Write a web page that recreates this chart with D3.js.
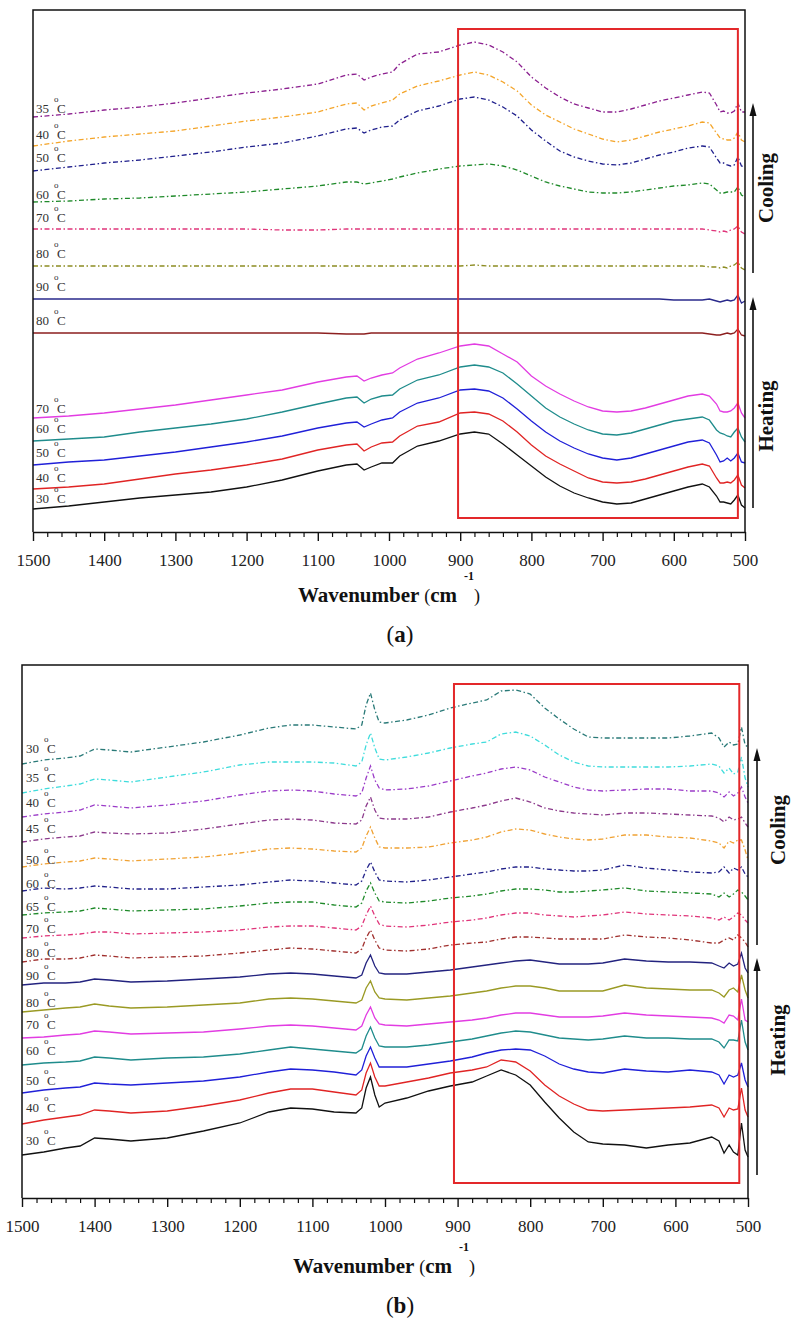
<!DOCTYPE html>
<meta charset="utf-8">
<title>FTIR spectra on heating and cooling</title>

<style>
body { margin: 0; background: #fff; }
text { font-family: "Liberation Serif", "Times New Roman", serif; }
</style>

<script src="https://d3js.org/d3.v7.min.js"></script>

<div id="chart"></div>

<script>

// ---------- panel (a) data ----------
// wavenumbers (cm-1) where the spectra were read
var wavenumA = [1500,1450,1400,1350,1300,1250,1200,1150,1100,1060,
                1045,1035,1025,1010,995,985,960,930,900,880,
                860,840,820,800,780,760,740,720,700,680,
                660,640,620,600,580,560,550,540,535,530,
                525,520,515,510,505,500];

// offset absorbance (arbitrary units, stacked)
var cool35A = [415,418,422,425,429,434,439,443,448,457, 458,452,455,458,460,468,478,480,487,490, 487,480,470,455,444,435,428,424,420,420, 423,427,431,434,437,440,439,427,420,421, 419,419,421,429,420,420];
var cool40A = [386,391,395,398,401,406,411,415,420,428, 429,422,426,429,432,438,446,451,457,460, 457,450,441,427,417,410,403,398,393,390, 392,396,400,403,406,410,409,399,394,393, 392,392,394,400,392,390];
var cool50A = [361,365,369,372,376,380,385,389,396,403, 404,399,402,405,406,412,421,426,433,435, 432,425,416,402,391,381,375,371,368,367, 369,373,377,380,384,386,385,374,369,369, 367,366,367,375,366,365];
var cool60A = [330,331,333,334,336,338,340,343,346,350, 350,348,349,351,353,355,359,363,366,367, 368,366,362,356,350,346,343,340,339,339, 340,342,344,346,347,349,348,342,339,339, 340,340,340,345,337,335];
var cool70A = [303,303,303,303,303,303,303,302,302,303, 303,303,303,303,303,303,303,303,303,303, 303,303,303,303,303,303,303,303,303,303, 303,303,303,303,303,303,302,301,300,301, 300,302,303,306,300,298];
var cool80A = [266,266,266,266,266,266,266,266,266,266, 266,266,266,266,266,266,266,266,266,267, 266,266,266,266,266,266,266,266,266,266, 266,266,266,266,266,266,265,265,264,265, 264,266,267,270,264,262];
var heat90A = [233,233,233,233,233,233,233,233,233,233, 233,233,233,233,233,233,233,233,233,233, 233,233,233,233,233,233,233,233,233,233, 233,233,233,232,232,232,233,231,230,231, 232,231,232,237,229,231];
var heat80A = [199,199,199,199,199,199,199,199,199,198, 198,198,199,199,199,199,199,199,199,199, 199,199,199,199,199,199,199,199,199,199, 199,199,199,199,199,199,198,197,197,198, 199,198,199,203,197,196];
var heat70A = [114,116,119,123,127,132,137,142,150,155, 156,151,154,157,159,164,173,179,186,188, 186,178,170,156,146,138,131,125,121,120, 121,124,128,132,136,138,136,128,121,120, 120,121,124,129,119,114];
var heat60A = [91,93,95,100,104,108,113,120,128,134, 135,129,133,136,137,143,152,157,165,167, 165,159,148,136,124,115,108,102,98,97, 99,103,107,111,113,115,112,102,99,98, 96,95,100,104,95,90];
var heat50A = [67,70,72,76,80,85,90,96,104,109, 110,105,108,112,114,120,129,134,142,143, 141,134,123,111,100,91,84,78,74,72, 74,78,82,86,90,92,89,77,70,71, 74,71,74,79,70,69];
var heat40A = [43,45,48,53,58,62,67,73,82,87, 88,81,85,89,90,96,106,110,119,120, 118,111,100,87,76,68,61,54,50,49, 50,53,57,61,65,68,66,54,49,49, 50,49,52,57,47,44];
var heat30A = [23,26,30,34,37,40,45,52,61,67, 68,62,65,69,69,76,86,91,98,100, 98,88,77,66,55,46,39,34,30,28, 29,33,37,41,45,48,45,36,30,30, 29,28,32,37,27,24];

var tempsA = ["35","40","50","60","70","80","90","80","70","60","50","40","30"];

// ---------- panel (b) data ----------
var wavenumB = [1500,1470,1440,1420,1400,1380,1350,1300,1250,1200,
                1160,1130,1100,1070,1040,1032,1026,1020,1014,1008,
                1000,970,940,910,880,860,840,820,800,780,
                760,740,720,700,670,640,610,580,550,540,
                533,526,520,514,509,504,500];

var cool30B = [434,438,440,442,449,448,446,451,456,463, 470,473,473,471,469,473,493,505,488,476, 475,478,483,490,495,498,507,508,504,490, 479,469,461,460,460,460,460,462,465,460, 451,456,453,454,471,453,451];
var cool35B = [405,409,412,414,419,418,416,421,426,433, 436,436,436,435,432,436,453,465,450,439, 438,441,445,450,454,456,464,466,462,453, 443,436,432,431,431,431,431,432,434,432, 425,430,424,426,441,420,411];
var cool40B = [381,384,386,388,393,392,390,393,397,403, 407,408,407,404,402,405,420,432,418,410, 408,409,412,417,422,425,429,431,428,421, 416,411,408,407,408,409,409,407,407,405, 401,406,402,405,411,401,395];
var cool45B = [356,359,361,362,366,365,364,365,369,374, 378,379,378,375,374,378,392,401,388,380, 379,379,381,386,390,393,397,400,396,390, 387,385,384,383,385,385,384,383,382,380, 376,381,378,379,381,375,371];
var cool50B = [331,334,336,337,340,339,337,339,341,345, 349,350,349,347,346,350,362,371,360,351, 350,350,351,355,358,361,366,369,368,364, 361,359,358,359,363,363,361,360,357,355, 350,357,355,358,358,348,338];
var cool60B = [307,310,309,310,312,311,309,309,311,313, 316,318,317,315,313,317,328,336,326,318, 317,316,318,321,324,326,329,331,331,329, 328,327,327,328,333,330,328,326,325,326, 331,325,330,328,331,324,321];
var cool65B = [283,285,286,287,290,289,287,288,289,292, 295,296,296,293,291,295,307,315,305,297, 296,295,297,300,302,304,307,309,309,308, 306,306,307,308,310,307,306,305,304,301, 305,301,304,308,306,302,298];
var cool70B = [260,262,263,264,266,266,264,265,266,268, 271,272,272,270,268,272,283,292,282,274, 272,271,273,276,278,280,283,285,285,283, 282,281,282,283,286,284,283,282,280,278, 281,278,281,285,283,278,275];
var cool80B = [236,239,239,240,243,242,240,241,242,245, 248,250,249,247,245,249,260,268,258,250, 248,247,249,253,255,256,259,261,261,260, 259,259,259,259,263,261,260,258,255,255, 258,260,258,263,260,256,251];
var heat90B = [213,215,215,216,219,218,216,217,219,221, 224,225,224,222,220,223,235,243,232,225, 224,224,226,228,231,233,235,237,238,236, 234,234,234,235,239,237,236,236,235,232, 230,235,232,234,245,230,225];
var heat80B = [186,188,190,191,194,192,190,191,193,195, 199,200,199,197,195,198,210,217,206,200, 199,198,200,202,205,207,210,212,212,210, 207,207,207,207,213,210,209,208,208,205, 201,208,210,206,223,208,200];
var heat70B = [160,161,163,164,167,166,164,165,166,169, 172,173,172,170,168,172,183,191,180,174, 173,172,174,176,178,180,183,185,185,183, 181,181,181,182,185,183,182,181,180,178, 175,183,182,178,199,178,176];
var heat60B = [133,135,136,137,141,140,138,140,141,144, 148,151,149,147,145,149,162,171,160,152, 151,151,153,156,159,162,165,167,166,163, 160,159,158,159,162,160,160,159,159,156, 150,158,158,157,178,156,148];
var heat50B = [105,108,110,111,115,114,113,115,117,121, 126,129,128,126,123,128,142,151,140,131, 131,131,134,137,141,145,148,149,148,142, 134,129,126,125,129,127,126,128,126,123, 114,123,121,123,135,118,111];
var heat40B = [74,78,81,83,88,87,85,87,92,98, 105,109,109,106,103,108,125,135,121,112, 112,116,120,125,128,131,138,136,127,113, 102,94,88,87,88,89,90,91,93,90, 81,90,88,89,110,88,81];
var heat30B = [43,46,50,52,60,59,57,60,67,75, 86,90,89,86,85,90,110,121,103,91, 95,100,107,112,116,122,128,123,113,96, 80,66,56,54,53,50,53,55,61,57, 45,53,46,43,75,48,41];

var tempsB = ["30","35","40","45","50","60","65","70","80","90","80","70","60","50","40","30"];

var majorTicks = d3.range(1500, 499, -100);
var minorTicks = d3.range(1480, 500, -20).filter(function(v) { return v % 100 != 0; });

var dashDot = "5,2.5,1.5,2.5";

var svg = d3.select("#chart")
  .append("svg")
    .attr("width", 799)
    .attr("height", 1327)
    .style("background", "#fff");

function drawPanel(p) {
  var x = d3.scaleLinear().domain([1500, 500]).range([p.left, p.right]);
  var y = d3.scaleLinear().domain([0, p.span]).range([p.bottom, p.top]);
  var g = svg.append("g");

  // spectra
  var line = d3.line()
    .x(function(d, i) { return x(p.wn[i]); })
    .y(function(d) { return y(d); });
  g.selectAll("path.spec")
    .data(p.series)
    .join("path")
      .attr("class", "spec")
      .attr("d", function(d) { return line(d.values); })
      .attr("fill", "none")
      .attr("stroke", function(d) { return d.color; })
      .attr("stroke-width", 1.3)
      .attr("stroke-dasharray", function(d) { return d.dash ? dashDot : null; });

  // temperature labels at the left end of each trace
  var lab = g.selectAll("g.lab")
    .data(p.series)
    .join("g")
      .attr("class", "lab")
      .attr("transform", function(d, i) {
        return "translate(" + p.labelX + "," + (y(d.values[0]) - p.labelDy[i]) + ")";
      })
      .attr("fill", "#333")
      .style("font-size", "13px");
  lab.append("text").text(function(d) { return d.temp; });
  lab.append("text").attr("x", 21).text("C");
  lab.append("text").attr("x", 18).attr("y", -11).style("font-size", "9px").text("o");

  // red region box
  g.append("rect")
    .attr("x", x(p.box[0]))
    .attr("y", y(p.box[2]))
    .attr("width", x(p.box[1]) - x(p.box[0]))
    .attr("height", y(p.box[3]) - y(p.box[2]))
    .attr("fill", "none")
    .attr("stroke", "#e3282a")
    .attr("stroke-width", 2);

  // frame
  g.append("path")
    .attr("d", "M" + p.left + "," + p.bottom + "V" + p.top + "H" + p.right + "V" + p.bottom)
    .attr("fill", "none")
    .attr("stroke", "#111")
    .attr("stroke-width", 1.5);

  // x axis, major + minor ticks
  var ax = g.append("g")
    .attr("transform", "translate(0," + p.bottom + ")")
    .call(d3.axisBottom(x).tickValues(majorTicks).tickSize(9).tickSizeOuter(0).tickPadding(13).tickFormat(d3.format("d")));
  ax.select(".domain").attr("stroke", "#111").attr("stroke-width", 1.5);
  ax.selectAll(".tick line").attr("stroke", "#111").attr("stroke-width", 1.4);
  ax.selectAll(".tick text")
    .attr("fill", "#222")
    .style("font-family", "Liberation Serif, serif")
    .style("font-size", "17px");
  var mx = g.append("g")
    .attr("transform", "translate(0," + p.bottom + ")")
    .call(d3.axisBottom(x).tickValues(minorTicks).tickSize(5).tickSizeOuter(0).tickFormat(""));
  mx.select(".domain").remove();
  mx.selectAll(".tick line").attr("stroke", "#111").attr("stroke-width", 1.2);

  // axis title
  var t = g.append("text")
    .attr("x", p.titleX)
    .attr("y", p.bottom + p.titleDy)
    .attr("fill", "#111")
    .style("font-size", "21px");
  t.append("tspan").style("font-weight", "bold").text("Wavenumber ");
  t.append("tspan").style("font-size", "18px").text("(");
  t.append("tspan").style("font-weight", "bold").text("cm");
  g.append("text")
    .attr("x", p.titleX + 166)
    .attr("y", p.bottom + p.titleDy - 22)
    .style("font-size", "12px")
    .style("font-weight", "bold")
    .attr("fill", "#111")
    .text("-1");
  g.append("text")
    .attr("x", p.titleX + 176)
    .attr("y", p.bottom + p.titleDy)
    .style("font-size", "18px")
    .attr("fill", "#111")
    .text(")");

  // panel letter
  var pl = g.append("text")
    .attr("x", 400)
    .attr("y", p.bottom + p.letterDy)
    .attr("text-anchor", "middle")
    .attr("fill", "#111")
    .style("font-size", "23px");
  pl.append("tspan").text("(");
  pl.append("tspan").style("font-weight", "bold").text(p.letter);
  pl.append("tspan").text(")");

  // cooling / heating arrows
  p.arrows.forEach(function(a) {
    var ax0 = p.right + p.arrowDx;
    g.append("line")
      .attr("x1", ax0).attr("x2", ax0)
      .attr("y1", y(a.from)).attr("y2", y(a.to) + 8)
      .attr("stroke", "#111")
      .attr("stroke-width", 1.6);
    g.append("path")
      .attr("d", "M" + ax0 + "," + y(a.to) + "L" + (ax0 - 3.5) + "," + (y(a.to) + 13) + "L" + (ax0 + 3.5) + "," + (y(a.to) + 13) + "Z")
      .attr("fill", "#111");
    g.append("text")
      .attr("transform", "translate(" + (p.right + p.textDx) + "," + y(a.mid) + ") rotate(-90)")
      .attr("text-anchor", "middle")
      .attr("fill", "#111")
      .style("font-size", "21px")
      .style("font-weight", "bold")
      .text(a.label);
  });
}

function makeSeries(temps, values, colors, dashes) {
  return temps.map(function(tp, i) {
    return {temp: tp, values: values[i], color: colors[i], dash: dashes[i]};
  });
}

drawPanel({
  letter: "a",
  left: 33, right: 745, top: 10, bottom: 532, span: 522,
  wn: wavenumA,
  series: makeSeries(tempsA,
    [cool35A, cool40A, cool50A, cool60A, cool70A, cool80A, heat90A, heat80A, heat70A, heat60A, heat50A, heat40A, heat30A],
    ["#8b1f8f", "#f4a52a", "#1f1f8c", "#1f8a2a", "#e0357a", "#8c8c22", "#2a2a8c", "#8c1f1f", "#e23ce2", "#1f8c8c", "#2020d8", "#e02424", "#111111"],
    [true, true, true, true, true, true, false, false, false, false, false, false, false]),
  labelX: 36,
  labelDy: [4, 7, 9, 3, 7, 8, 8, 8, 5, 8, 8, 7, 6],
  box: [903, 510, 503, 14],
  titleX: 298, titleDy: 70, letterDy: 110,
  arrowDx: 8, textDx: 28,
  arrows: [
    {from: 259, to: 429, mid: 344, label: "Cooling"},
    {from: 24, to: 235, mid: 116, label: "Heating"}
  ]
});

drawPanel({
  letter: "b",
  left: 22, right: 748, top: 665, bottom: 1198, span: 533,
  wn: wavenumB,
  series: makeSeries(tempsB,
    [cool30B, cool35B, cool40B, cool45B, cool50B, cool60B, cool65B, cool70B, cool80B, heat90B, heat80B, heat70B, heat60B, heat50B, heat40B, heat30B],
    ["#2a7a78", "#3fdcdc", "#9b3cc8", "#8c3a8c", "#f0a234", "#22228a", "#1f8a2a", "#e0357a", "#a0302e", "#23237f", "#9a9a24", "#e23ce2", "#1f8c8c", "#2020d8", "#e02424", "#111111"],
    [true, true, true, true, true, true, true, true, true, false, false, false, false, false, false, false]),
  labelX: 26,
  labelDy: [11, 11, 10, 9, 3, 3, 4, 5, 5, 5, 5, 9, 10, 8, 12, 10],
  box: [905, 512, 514, 15],
  titleX: 293, titleDy: 75, letterDy: 115,
  arrowDx: 9, textDx: 37,
  arrows: [
    {from: 253, to: 450, mid: 368, label: "Cooling"},
    {from: 23, to: 240, mid: 158, label: "Heating"}
  ]
});

</script>
